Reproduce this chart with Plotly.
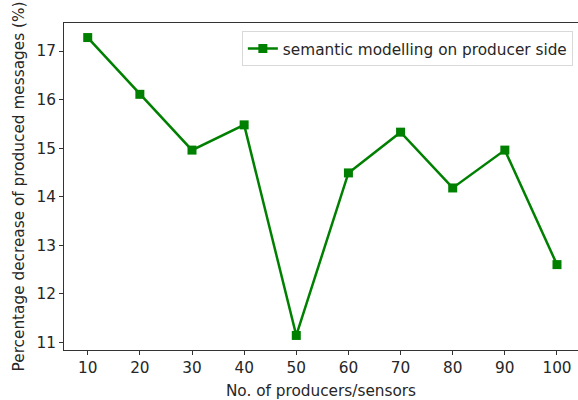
import plotly.graph_objects as go

producers = [10, 20, 30, 40, 50, 60, 70, 80, 90, 100]
decrease = [17.28, 16.11, 14.96, 15.48, 11.14, 14.49, 15.33, 14.18, 14.96, 12.60]
series_name = "semantic modelling on producer side"
x_ticks = [10, 20, 30, 40, 50, 60, 70, 80, 90, 100]
y_ticks = [11, 12, 13, 14, 15, 16, 17]

fig = go.Figure()
fig.add_trace(go.Scatter(
    x=producers, y=decrease, mode="lines+markers", name=series_name,
    line=dict(color="#008000", width=2.5),
    marker=dict(symbol="square", size=9, color="#008000"),
))

font = dict(family="DejaVu Sans", size=15.3, color="#262626")
fig.update_layout(
    width=578, height=400,
    margin=dict(l=64, r=0, t=23, b=50),
    paper_bgcolor="white", plot_bgcolor="white",
    font=font,
    showlegend=True,
    legend=dict(x=0.99, y=0.975, xanchor="right", yanchor="top",
                bgcolor="white", bordercolor="#d9d9d9", borderwidth=1,
                itemwidth=30, tracegroupgap=0,
                font=font),
    xaxis=dict(range=[5.45, 104.03], tickvals=x_ticks, showgrid=False, zeroline=False,
               showline=True, linecolor="#333333", linewidth=1, mirror=True,
               ticks="outside", ticklen=4, tickcolor="#333333",
               title=dict(text="No. of producers/sensors", standoff=8, font=font)),
    yaxis=dict(range=[10.84, 17.58], tickvals=y_ticks, showgrid=False, zeroline=False,
               showline=True, linecolor="#333333", linewidth=1,
               ticks="outside", ticklen=4, tickcolor="#333333",
               title=dict(text="Percentage decrease of produced messages (%)", standoff=8, font=font)),
)
fig.write_html("out.html")
